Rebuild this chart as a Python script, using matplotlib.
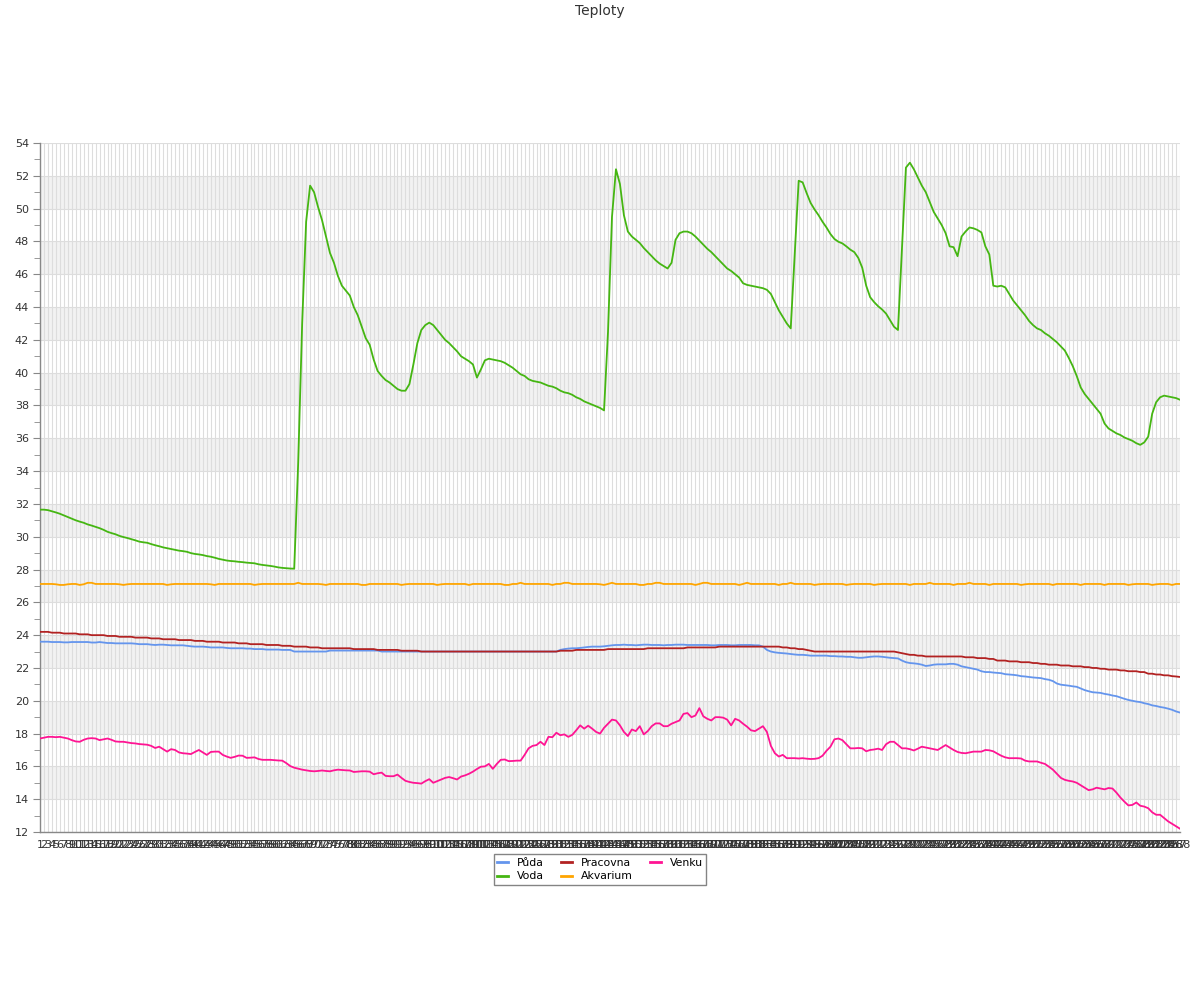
import matplotlib
matplotlib.use("Agg")
import matplotlib.pyplot as plt
from matplotlib.ticker import MultipleLocator
from matplotlib.lines import Line2D

title = "Teploty"
labels = [str(i) for i in range(1, 289)]
series_names = ["Půda", "Voda", "Pracovna", "Akvarium", "Venku"]
colors = ["#6495ed", "#45b612", "#b22222", "#ffa500", "#ff1493"]

puda = [
    23.6, 23.6, 23.6, 23.58, 23.58, 23.58, 23.56, 23.56, 23.58, 23.58, 23.58, 23.58, 23.58, 23.55, 23.55, 23.58, 23.55, 23.52, 23.52, 23.5, 23.5, 23.5, 23.5, 23.5,
    23.48, 23.45, 23.45, 23.45, 23.42, 23.4, 23.42, 23.42, 23.4, 23.38, 23.38, 23.38, 23.38, 23.35, 23.32, 23.3, 23.3, 23.3, 23.28, 23.25, 23.25, 23.25, 23.25, 23.22,
    23.2, 23.2, 23.2, 23.2, 23.18, 23.18, 23.15, 23.15, 23.15, 23.12, 23.12, 23.12, 23.12, 23.1, 23.1, 23.1, 23.0, 23.0, 23.0, 23.0, 23.0, 23.0, 23.0, 23.0,
    23.0, 23.06, 23.06, 23.06, 23.06, 23.06, 23.06, 23.06, 23.06, 23.06, 23.06, 23.06, 23.06, 23.06, 23.0, 23.0, 23.0, 23.0, 23.0, 23.0, 23.0, 23.0, 23.0, 23.0,
    23.0, 23.0, 23.0, 23.0, 23.0, 23.0, 23.0, 23.0, 23.0, 23.0, 23.0, 23.0, 23.0, 23.0, 23.0, 23.0, 23.0, 23.0, 23.0, 23.0, 23.0, 23.0, 23.0, 23.0,
    23.0, 23.0, 23.0, 23.0, 23.0, 23.0, 23.0, 23.0, 23.0, 23.0, 23.0, 23.1, 23.15, 23.18, 23.2, 23.2, 23.22, 23.25, 23.28, 23.3, 23.3, 23.3, 23.32, 23.35,
    23.38, 23.4, 23.4, 23.42, 23.4, 23.4, 23.38, 23.4, 23.42, 23.42, 23.4, 23.4, 23.4, 23.38, 23.4, 23.4, 23.42, 23.42, 23.42, 23.4, 23.4, 23.4, 23.4, 23.4,
    23.4, 23.38, 23.38, 23.4, 23.4, 23.4, 23.38, 23.38, 23.4, 23.4, 23.4, 23.4, 23.38, 23.38, 23.3, 23.1, 23.0, 22.95, 22.92, 22.9, 22.88, 22.85, 22.82, 22.8,
    22.8, 22.78, 22.75, 22.75, 22.75, 22.75, 22.75, 22.72, 22.72, 22.7, 22.7, 22.68, 22.68, 22.65, 22.62, 22.62, 22.65, 22.68, 22.7, 22.7, 22.68, 22.65, 22.62, 22.6,
    22.58, 22.45, 22.35, 22.3, 22.28, 22.25, 22.2, 22.12, 22.15, 22.2, 22.22, 22.22, 22.22, 22.25, 22.25, 22.2, 22.1, 22.05, 22.0, 21.95, 21.9, 21.8, 21.75, 21.75,
    21.72, 21.7, 21.68, 21.62, 21.6, 21.58, 21.55, 21.5, 21.48, 21.45, 21.42, 21.4, 21.38, 21.32, 21.28, 21.2, 21.05, 20.98, 20.95, 20.92, 20.88, 20.85, 20.75, 20.65,
    20.58, 20.52, 20.5, 20.48, 20.42, 20.38, 20.32, 20.28, 20.2, 20.12, 20.05, 20.0, 19.95, 19.92, 19.85, 19.8, 19.72, 19.68, 19.62, 19.58, 19.52, 19.45, 19.35, 19.28,
]

voda = [
    31.65, 31.65, 31.62, 31.55, 31.48, 31.4, 31.3, 31.2, 31.1, 31.0, 30.92, 30.85, 30.75, 30.68, 30.6, 30.52, 30.42, 30.3, 30.22, 30.15, 30.05, 29.98, 29.92, 29.85,
    29.78, 29.7, 29.66, 29.63, 29.55, 29.48, 29.42, 29.35, 29.3, 29.25, 29.2, 29.15, 29.12, 29.08, 29.0, 28.95, 28.92, 28.88, 28.82, 28.78, 28.72, 28.65, 28.6, 28.55,
    28.52, 28.5, 28.47, 28.45, 28.42, 28.4, 28.38, 28.32, 28.28, 28.25, 28.22, 28.18, 28.13, 28.1, 28.08, 28.06, 28.05, 34.5, 43.0, 49.2, 51.4, 51.0, 50.1, 49.3,
    48.3, 47.3, 46.7, 45.9, 45.3, 45.0, 44.7, 44.0, 43.5, 42.8, 42.1, 41.7, 40.8, 40.1, 39.8, 39.55, 39.4, 39.2, 39.0, 38.9, 38.9, 39.3, 40.5, 41.8,
    42.6, 42.9, 43.05, 42.9, 42.6, 42.3, 42.0, 41.8, 41.55, 41.3, 41.0, 40.85, 40.7, 40.5, 39.7, 40.2, 40.75, 40.85, 40.8, 40.75, 40.7, 40.6, 40.45, 40.3,
    40.1, 39.9, 39.8, 39.6, 39.5, 39.45, 39.4, 39.3, 39.2, 39.15, 39.05, 38.9, 38.8, 38.75, 38.65, 38.5, 38.4, 38.25, 38.15, 38.05, 37.95, 37.85, 37.7, 42.5,
    49.5, 52.4, 51.5, 49.6, 48.6, 48.3, 48.1, 47.9, 47.6, 47.35, 47.1, 46.85, 46.65, 46.5, 46.35, 46.7, 48.1, 48.5, 48.6, 48.6, 48.5, 48.3, 48.05, 47.8,
    47.55, 47.35, 47.1, 46.85, 46.6, 46.35, 46.2, 46.0, 45.8, 45.45, 45.35, 45.3, 45.25, 45.2, 45.15, 45.05, 44.8, 44.3, 43.8, 43.4, 43.0, 42.7, 47.2, 51.7,
    51.6, 50.95, 50.35, 49.95, 49.6, 49.2, 48.85, 48.45, 48.15, 47.98, 47.88, 47.7, 47.5, 47.35, 47.0, 46.4, 45.3, 44.6, 44.3, 44.05, 43.85, 43.6, 43.2, 42.8,
    42.6, 47.5, 52.5, 52.8, 52.4, 51.9, 51.4, 51.0, 50.4, 49.8, 49.4, 49.0, 48.5, 47.7, 47.65, 47.1, 48.3, 48.6, 48.85, 48.8, 48.7, 48.55, 47.7, 47.2,
    45.3, 45.25, 45.3, 45.2, 44.8, 44.4, 44.1, 43.8, 43.5, 43.15, 42.9, 42.7, 42.6, 42.4, 42.25, 42.05, 41.85, 41.6, 41.35, 40.9, 40.4, 39.8, 39.1, 38.7,
    38.4, 38.1, 37.8, 37.5, 36.9, 36.6, 36.45, 36.3, 36.2, 36.05, 35.95, 35.85, 35.7, 35.6, 35.75, 36.1, 37.5, 38.2, 38.5, 38.6, 38.55, 38.5, 38.45, 38.35,
]

pracovna = [
    24.2, 24.2, 24.2, 24.15, 24.15, 24.15, 24.1, 24.1, 24.1, 24.1, 24.05, 24.05, 24.05, 24.0, 24.0, 24.0, 24.0, 23.95, 23.95, 23.95, 23.9, 23.9, 23.9, 23.9,
    23.85, 23.85, 23.85, 23.85, 23.8, 23.8, 23.8, 23.75, 23.75, 23.75, 23.75, 23.7, 23.7, 23.7, 23.7, 23.65, 23.65, 23.65, 23.6, 23.6, 23.6, 23.6, 23.55, 23.55,
    23.55, 23.55, 23.5, 23.5, 23.5, 23.45, 23.45, 23.45, 23.45, 23.4, 23.4, 23.4, 23.4, 23.35, 23.35, 23.35, 23.3, 23.3, 23.3, 23.3, 23.25, 23.25, 23.25, 23.2,
    23.2, 23.2, 23.2, 23.2, 23.2, 23.2, 23.2, 23.15, 23.15, 23.15, 23.15, 23.15, 23.15, 23.1, 23.1, 23.1, 23.1, 23.1, 23.1, 23.05, 23.05, 23.05, 23.05, 23.05,
    23.0, 23.0, 23.0, 23.0, 23.0, 23.0, 23.0, 23.0, 23.0, 23.0, 23.0, 23.0, 23.0, 23.0, 23.0, 23.0, 23.0, 23.0, 23.0, 23.0, 23.0, 23.0, 23.0, 23.0,
    23.0, 23.0, 23.0, 23.0, 23.0, 23.0, 23.0, 23.0, 23.0, 23.0, 23.0, 23.05, 23.05, 23.05, 23.05, 23.1, 23.1, 23.1, 23.1, 23.1, 23.1, 23.1, 23.1, 23.15,
    23.15, 23.15, 23.15, 23.15, 23.15, 23.15, 23.15, 23.15, 23.15, 23.2, 23.2, 23.2, 23.2, 23.2, 23.2, 23.2, 23.2, 23.2, 23.2, 23.25, 23.25, 23.25, 23.25, 23.25,
    23.25, 23.25, 23.25, 23.3, 23.3, 23.3, 23.3, 23.3, 23.3, 23.3, 23.3, 23.3, 23.3, 23.3, 23.3, 23.3, 23.3, 23.3, 23.3, 23.25, 23.25, 23.2, 23.2, 23.15,
    23.15, 23.1, 23.05, 23.0, 23.0, 23.0, 23.0, 23.0, 23.0, 23.0, 23.0, 23.0, 23.0, 23.0, 23.0, 23.0, 23.0, 23.0, 23.0, 23.0, 23.0, 23.0, 23.0, 23.0,
    22.95, 22.9, 22.85, 22.8, 22.8, 22.75, 22.75, 22.7, 22.7, 22.7, 22.7, 22.7, 22.7, 22.7, 22.7, 22.7, 22.7, 22.65, 22.65, 22.65, 22.6, 22.6, 22.6, 22.55,
    22.55, 22.45, 22.45, 22.45, 22.4, 22.4, 22.4, 22.35, 22.35, 22.35, 22.3, 22.3, 22.25, 22.25, 22.2, 22.2, 22.2, 22.15, 22.15, 22.15, 22.1, 22.1, 22.1, 22.05,
    22.05, 22.0, 22.0, 21.95, 21.95, 21.9, 21.9, 21.9, 21.85, 21.85, 21.8, 21.8, 21.8, 21.75, 21.75, 21.65, 21.65, 21.6, 21.6, 21.55, 21.55, 21.5, 21.48, 21.45,
]

akvarium = [
    27.12, 27.12, 27.12, 27.12, 27.1, 27.06, 27.06, 27.1, 27.12, 27.12, 27.06, 27.1, 27.19, 27.19, 27.12, 27.12, 27.12, 27.12, 27.12, 27.12, 27.1, 27.06, 27.1, 27.12,
    27.12, 27.12, 27.12, 27.12, 27.12, 27.12, 27.12, 27.12, 27.06, 27.1, 27.12, 27.12, 27.12, 27.12, 27.12, 27.12, 27.12, 27.12, 27.12, 27.1, 27.06, 27.12, 27.12, 27.12,
    27.12, 27.12, 27.12, 27.12, 27.12, 27.12, 27.06, 27.1, 27.12, 27.12, 27.12, 27.12, 27.12, 27.12, 27.12, 27.12, 27.12, 27.19, 27.12, 27.12, 27.12, 27.12, 27.12, 27.1,
    27.06, 27.12, 27.12, 27.12, 27.12, 27.12, 27.12, 27.12, 27.12, 27.06, 27.06, 27.12, 27.12, 27.12, 27.12, 27.12, 27.12, 27.12, 27.12, 27.06, 27.1, 27.12, 27.12, 27.12,
    27.12, 27.12, 27.12, 27.12, 27.06, 27.1, 27.12, 27.12, 27.12, 27.12, 27.12, 27.12, 27.06, 27.12, 27.12, 27.12, 27.12, 27.12, 27.12, 27.12, 27.12, 27.06, 27.06, 27.12,
    27.12, 27.19, 27.12, 27.12, 27.12, 27.12, 27.12, 27.12, 27.12, 27.06, 27.12, 27.12, 27.19, 27.19, 27.12, 27.12, 27.12, 27.12, 27.12, 27.12, 27.12, 27.1, 27.06, 27.12,
    27.19, 27.12, 27.12, 27.12, 27.12, 27.12, 27.12, 27.06, 27.06, 27.12, 27.12, 27.19, 27.19, 27.12, 27.12, 27.12, 27.12, 27.12, 27.12, 27.12, 27.12, 27.06, 27.12, 27.19,
    27.19, 27.12, 27.12, 27.12, 27.12, 27.12, 27.12, 27.12, 27.06, 27.12, 27.19, 27.12, 27.12, 27.12, 27.12, 27.12, 27.12, 27.12, 27.06, 27.12, 27.12, 27.19, 27.12, 27.12,
    27.12, 27.12, 27.12, 27.06, 27.1, 27.12, 27.12, 27.12, 27.12, 27.12, 27.12, 27.06, 27.1, 27.12, 27.12, 27.12, 27.12, 27.12, 27.06, 27.1, 27.12, 27.12, 27.12, 27.12,
    27.12, 27.12, 27.12, 27.06, 27.12, 27.12, 27.12, 27.12, 27.19, 27.12, 27.12, 27.12, 27.12, 27.12, 27.06, 27.12, 27.12, 27.12, 27.19, 27.12, 27.12, 27.12, 27.12, 27.06,
    27.12, 27.12, 27.12, 27.12, 27.12, 27.12, 27.12, 27.06, 27.1, 27.12, 27.12, 27.12, 27.12, 27.12, 27.12, 27.06, 27.12, 27.12, 27.12, 27.12, 27.12, 27.12, 27.06, 27.12,
    27.12, 27.12, 27.12, 27.12, 27.06, 27.12, 27.12, 27.12, 27.12, 27.12, 27.06, 27.1, 27.12, 27.12, 27.12, 27.12, 27.06, 27.1, 27.12, 27.12, 27.12, 27.06, 27.12, 27.12,
]

venku = [
    17.7, 17.75, 17.8, 17.8, 17.78, 17.8, 17.75, 17.7, 17.6, 17.52, 17.5, 17.62, 17.7, 17.72, 17.7, 17.6, 17.65, 17.7, 17.62, 17.52, 17.5, 17.5, 17.46, 17.42,
    17.4, 17.36, 17.34, 17.32, 17.25, 17.12, 17.2, 17.05, 16.9, 17.05, 17.0, 16.85, 16.8, 16.78, 16.75, 16.88, 17.0, 16.85, 16.7, 16.88, 16.9, 16.9, 16.7, 16.6,
    16.52, 16.58, 16.66, 16.65, 16.52, 16.53, 16.55, 16.45, 16.4, 16.4, 16.4, 16.38, 16.36, 16.35, 16.2, 16.02, 15.92, 15.86, 15.8, 15.76, 15.72, 15.7, 15.72, 15.75,
    15.72, 15.7, 15.76, 15.8, 15.78, 15.76, 15.75, 15.66, 15.68, 15.7, 15.7, 15.68, 15.52, 15.58, 15.62, 15.42, 15.4, 15.4, 15.5, 15.3, 15.12, 15.05, 15.0, 14.98,
    14.95, 15.1, 15.22, 15.0, 15.1, 15.2, 15.3, 15.35, 15.28, 15.2, 15.38, 15.45, 15.55, 15.68, 15.84, 15.98, 16.0, 16.15, 15.85, 16.15, 16.4, 16.42, 16.32, 16.33,
    16.35, 16.35, 16.7, 17.1, 17.25, 17.3, 17.5, 17.3, 17.8, 17.78, 18.05, 17.9, 17.95, 17.8, 17.92, 18.2, 18.5, 18.3, 18.48, 18.3, 18.1, 18.0, 18.35, 18.6,
    18.85, 18.8, 18.5, 18.1, 17.85, 18.25, 18.15, 18.45, 17.95, 18.15, 18.45, 18.62, 18.62, 18.45, 18.45, 18.6, 18.7, 18.8, 19.2, 19.25, 19.0, 19.1, 19.55, 19.05,
    18.9, 18.8, 19.0, 19.0, 18.97, 18.85, 18.5, 18.9, 18.8, 18.6, 18.42, 18.2, 18.15, 18.3, 18.45, 18.1, 17.25, 16.8, 16.6, 16.7, 16.5, 16.5, 16.5, 16.48,
    16.5, 16.47, 16.45, 16.46, 16.5, 16.65, 16.95, 17.2, 17.65, 17.7, 17.6, 17.35, 17.1, 17.1, 17.12, 17.1, 16.92, 17.0, 17.03, 17.08, 17.0, 17.35, 17.5, 17.5,
    17.3, 17.1, 17.1, 17.05, 16.97, 17.08, 17.2, 17.15, 17.1, 17.05, 17.0, 17.15, 17.3, 17.15, 17.0, 16.88, 16.82, 16.8, 16.85, 16.9, 16.9, 16.9, 17.0, 16.98,
    16.92, 16.78, 16.65, 16.55, 16.5, 16.5, 16.5, 16.48, 16.35, 16.3, 16.3, 16.3, 16.22, 16.15, 15.98, 15.8, 15.55, 15.3, 15.18, 15.12, 15.08, 15.0, 14.85, 14.7,
    14.55, 14.6, 14.7, 14.65, 14.6, 14.68, 14.65, 14.4, 14.1, 13.85, 13.62, 13.65, 13.8, 13.6, 13.55, 13.45, 13.2, 13.05, 13.05, 12.85, 12.65, 12.5, 12.35, 12.2,
]

series = [puda, voda, pracovna, akvarium, venku]
for s in series:
    assert len(s) == len(labels), len(s)

W, H = 1200, 1000
fig = plt.figure(figsize=(W / 100, H / 100), dpi=100)
ax = fig.add_axes([40 / W, 168 / H, 1140 / W, 689 / H])

x = list(range(len(labels)))

# alternating bands
for lo in range(14, 52, 4):
    ax.axhspan(lo, lo + 2, color="#f2f2f2", lw=0, zorder=0)

for vals, name, col in zip(series, series_names, colors):
    ax.plot(x, vals, color=col, lw=1.3, label=name, zorder=3, solid_joinstyle="round")

ax.set_xlim(0, len(labels) - 1)
ax.set_ylim(12, 54)
ax.set_xticks(x)
ax.set_xticklabels(labels, fontsize=8, color="#333333")
ax.yaxis.set_major_locator(MultipleLocator(2))
ax.yaxis.set_minor_locator(MultipleLocator(1))
ax.tick_params(axis="x", length=0, pad=6)
ax.tick_params(axis="y", which="major", length=5, color="#888888", labelsize=8, labelcolor="#333333", pad=3)
ax.tick_params(axis="y", which="minor", length=4, color="#888888")
ax.grid(axis="x", color="#dddddd", lw=0.8, zorder=1)
ax.grid(axis="y", which="major", color="#dddddd", lw=0.8, zorder=1)
ax.set_axisbelow(True)
for sp in ["top", "right"]:
    ax.spines[sp].set_visible(False)
for sp in ["left", "bottom"]:
    ax.spines[sp].set_color("#888888")
    ax.spines[sp].set_linewidth(1.0)

fig.text(0.5, 1 - 11 / H, title, ha="center", va="center", fontsize=10, color="#333333")

handles = [Line2D([], [], color=c, lw=2) for c in colors]
leg = fig.legend(handles, series_names, ncol=3, loc="upper center",
                 bbox_to_anchor=(600 / W, 1 - 849 / H), frameon=True, fancybox=False,
                 edgecolor="#666666", fontsize=7.8, handlelength=1.0, handletextpad=0.8,
                 columnspacing=1.6, borderpad=0.35, labelspacing=0.3)
leg.get_frame().set_linewidth(1.0)

fig.savefig("out.png", dpi=100)
